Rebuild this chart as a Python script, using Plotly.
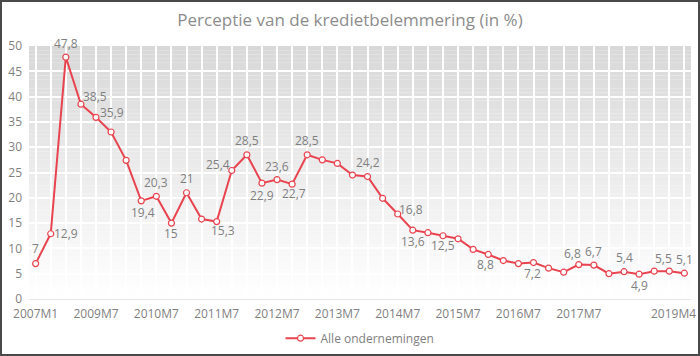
import plotly.graph_objects as go

categories = ["2007M1", "2008M1", "2009M1", "2009M4",
              "2009M7", "2009M10", "2010M1", "2010M4",
              "2010M7", "2010M10", "2011M1", "2011M4",
              "2011M7", "2011M10", "2012M1", "2012M4",
              "2012M7", "2012M10", "2013M1", "2013M4",
              "2013M7", "2013M10", "2014M1", "2014M4",
              "2014M7", "2014M10", "2015M1", "2015M4",
              "2015M7", "2015M10", "2016M1", "2016M4",
              "2016M7", "2016M10", "2017M1", "2017M4",
              "2017M7", "2017M10", "2018M1", "2018M4",
              "2018M7", "2018M10", "2019M1", "2019M4"]

values = [7.0, 12.9, 47.8, 38.5,
          35.9, 33.0, 27.4, 19.4,
          20.3, 15.0, 21.0, 15.8,
          15.3, 25.4, 28.5, 22.9,
          23.6, 22.7, 28.5, 27.5,
          26.8, 24.5, 24.2, 19.9,
          16.8, 13.6, 13.1, 12.5,
          11.9, 9.8, 8.8, 7.6,
          7.0, 7.2, 6.1, 5.3,
          6.8, 6.7, 5.0, 5.4,
          4.9, 5.5, 5.5, 5.1]

shown_ticks = ["2007M1", "2009M7", "2010M7", "2011M7", "2012M7", "2013M7",
               "2014M7", "2015M7", "2016M7", "2017M7", "2019M4"]

y_ticks = [0, 5, 10, 15, 20, 25, 30, 35, 40, 45, 50]

series_name = "Alle ondernemingen"
title_text = "Perceptie van de kredietbelemmering (in %)"

# style: which points carry a data label, and the label's pixel offset (dx, dy up)
label_offsets = {
    0: (0, 15), 1: (15, 0), 2: (0, 14), 3: (14, 8),
    4: (16, 5), 7: (2, -12), 8: (0, 14), 9: (0, -10),
    10: (0, 14), 12: (6, -9), 13: (-14, 6), 14: (0, 14),
    15: (0, -12), 16: (0, 13), 17: (2, -9), 18: (0, 14),
    22: (0, 14), 24: (13, 4), 25: (0, -11), 27: (0, -10),
    30: (-3, -10), 33: (-1, -11), 36: (-6, 11), 37: (0, 14),
    39: (0, 14), 40: (0, -11), 42: (-6, 13), 43: (0, 14),
}

FONT = "Open Sans, Noto Sans, sans-serif"
RED = "#e8434f"
GREY_TXT = "#7f7f7f"

fig = go.Figure()
fig.add_trace(go.Scatter(
    x=categories, y=values, mode="lines+markers", name=series_name,
    line=dict(color=RED, width=2),
    marker=dict(size=6, color="white", line=dict(color=RED, width=1.2)),
    cliponaxis=False,
))

annotations = []
for i, (dx, dy) in label_offsets.items():
    annotations.append(dict(
        x=categories[i], y=values[i], xref="x", yref="y",
        text=f"{values[i]:g}".replace(".", ","), showarrow=False,
        xanchor="center", yanchor="middle", xshift=dx, yshift=dy,
        font=dict(family=FONT, size=12, color=GREY_TXT)))
# last category tick label, pulled inward so it stays inside the frame
annotations.append(dict(
    x=categories[-1], y=0, xref="x", yref="y", text=categories[-1],
    showarrow=False, xanchor="center", yanchor="middle", xshift=-11, yshift=-14,
    font=dict(family=FONT, size=12, color=GREY_TXT)))

# vertical gradient background (grey at top to white at bottom)
n_bands = 60
shapes = []
for k in range(n_bands):
    t = k / (n_bands - 1)
    c = int(round(0xd8 + (0xff - 0xd8) * t))
    shapes.append(dict(type="rect", xref="paper", yref="paper",
                       x0=0, x1=1, y0=1 - (k + 1) / n_bands, y1=1 - k / n_bands,
                       fillcolor=f"rgb({c},{c},{c})", line=dict(width=0),
                       layer="below"))
# outer border
shapes.append(dict(type="rect", xref="paper", yref="paper",
                   x0=-28 / 662, x1=1 + 8 / 662, y0=-56 / 253, y1=1 + 45 / 253,
                   line=dict(color="#4a4a4a", width=2), fillcolor="rgba(0,0,0,0)",
                   layer="above"))

ticktext = [c if (c in shown_ticks and c != categories[-1]) else "" for c in categories]

fig.update_layout(
    width=700, height=356, autosize=False,
    margin=dict(l=29, r=9, t=46, b=57, autoexpand=False),
    paper_bgcolor="white", plot_bgcolor="rgba(0,0,0,0)",
    separators=", ",
    font=dict(family=FONT, color=GREY_TXT, size=12),
    title=dict(text=title_text, x=0.5, xanchor="center", y=0.945, yanchor="middle",
               font=dict(family=FONT, size=17, color="#8c8c8c")),
    shapes=shapes,
    annotations=annotations,
    showlegend=True,
    legend=dict(orientation="h", x=0.5, xanchor="center", y=-0.155, yanchor="middle",
                font=dict(family=FONT, size=12, color=GREY_TXT),
                bgcolor="rgba(0,0,0,0)"),
    xaxis=dict(type="category", categoryorder="array", categoryarray=categories,
               range=[-0.44, len(categories) - 1 + 0.44], automargin=False,
               tickmode="array", tickvals=categories, ticktext=ticktext,
               showgrid=True, gridcolor="white", gridwidth=1.5,
               zeroline=False, showline=True, linecolor="#e6e6e6", linewidth=1,
               ticks="", ticklabelstandoff=4,
               tickfont=dict(size=12, color=GREY_TXT)),
    yaxis=dict(range=[0, 50], tickmode="array", tickvals=y_ticks, automargin=False,
               showgrid=True, gridcolor="white", gridwidth=1.5,
               zeroline=False, showline=False, ticks="",
               ticklabelstandoff=6,
               tickfont=dict(size=12, color=GREY_TXT)),
)

fig.write_html("out.html",
               config=dict(displayModeBar=False, responsive=False),
               post_script="document.body.style.margin='0';document.body.style.overflow='hidden';")
